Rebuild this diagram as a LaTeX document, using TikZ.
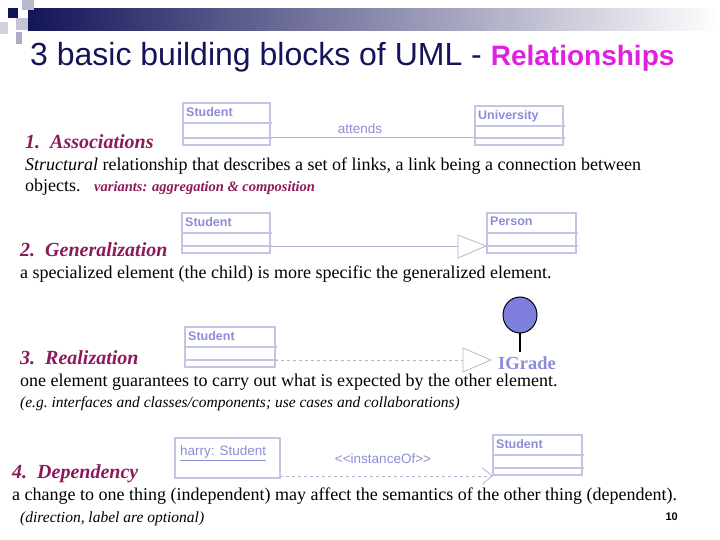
\documentclass[tikz,border=0pt]{standalone}
\usepackage{fontspec}
\setmainfont{Liberation Serif}
\setsansfont{Liberation Sans}
\usetikzlibrary{arrows.meta,shadings}
\definecolor{umlline}{HTML}{C4C4E4}
\definecolor{umltext}{HTML}{8C8CD8}
\definecolor{navyhead}{HTML}{14145A}
\definecolor{pinkhead}{HTML}{E020E0}
\definecolor{itemcol}{HTML}{8B1A5A}
\tikzset{
    classbox/.style={draw=umlline, line width=1.2pt},
    classname/.style={anchor=north west, inner sep=0pt, font=\sffamily\fontsize{12.5}{14}\selectfont\bfseries, text=umltext},
    rellabel/.style={font=\sffamily\fontsize{13.5}{16}\selectfont, text=umltext},
    relline/.style={draw=umlline!80!gray, line width=0.8pt},
    itemhead/.style={anchor=base west, inner sep=0pt, font=\fontsize{20}{24}\selectfont\bfseries\itshape, text=itemcol},
    body/.style={anchor=base west, inner sep=0pt, font=\fontsize{18}{21}\selectfont},
    note/.style={anchor=base west, inner sep=0pt, font=\fontsize{15.5}{18}\selectfont\itshape},
}
% a class with two compartments: name, x1, y1, x2, y2
\newcommand{\umlclass}[6]{
    \draw[classbox] (#2, #3) rectangle (#4, #5);
    \draw[classbox] (#2, #3 + 20) -- (#4 + 2, #3 + 20);
    \draw[classbox] (#2, #5 - 7) -- (#4 + 2, #5 - 7);
    \node[classname] (#1) at (#2 + 3, #3 + 4) {#6};
}
\begin{document}
\begin{tikzpicture}[x=1pt, y=-1pt]
    \useasboundingbox (0, 0) rectangle (720, 540);

    % header bar
    \shade[left color=navyhead, right color=white] (28, 9) rectangle (720, 31);
    \fill[navyhead] (8, 8) rectangle (18, 18);
    \fill[navyhead!30] (22, 0) rectangle (34, 10);
    \fill[navyhead!25] (16, 18) rectangle (28, 30);
    \fill[navyhead!20] (0, 22) rectangle (8, 34);
    \fill[navyhead!35] (16, 32) rectangle (22, 44);
    \node[anchor=base west, inner sep=0pt, font=\sffamily\fontsize{32}{36}\selectfont, text=navyhead] (title) at (30, 66)
        {3 basic building blocks of UML - \textcolor{pinkhead}{\fontsize{28}{32}\selectfont\bfseries Relationships}};

    % 1. association
    \umlclass{studA}{183}{103}{270}{145}{Student}
    \umlclass{univ}{475}{106}{563}{145}{University}
    \draw[relline] (270, 137) -- (475, 137);
    \node[rellabel] (attends) at (360, 129) {attends};
    \node[itemhead] (assoc) at (25, 149) {1.\ \ Associations};
    \node[body] (assocA) at (25, 171) {\textit{Structural} relationship that describes a set of links, a link being a connection between};
    \node[body] (assocB) at (25, 192) {objects.\ \ \ \textcolor{itemcol}{\fontsize{14.5}{16}\selectfont\bfseries\itshape variants: aggregation \& composition}};

    % 2. generalization
    \umlclass{studB}{182}{213}{270}{253}{Student}
    \umlclass{person}{487}{213}{576}{253}{Person}
    \draw[relline] (270, 246) -- (458, 246);
    \draw[relline, fill=white] (458, 235) -- (486, 246) -- (458, 258) -- cycle;
    \node[itemhead] (gen) at (20, 256) {2.\ \ Generalization};
    \node[body] (genA) at (20, 278) {a specialized element (the child) is more specific the generalized element.};

    % 3. realization
    \umlclass{studC}{185}{327}{275}{367}{Student}
    \draw[relline, dashed] (275, 360) -- (463, 360);
    \draw[relline, fill=white] (463, 348) -- (491, 360) -- (463, 372) -- cycle;
    \draw[line width=1.5pt] (520, 333) -- (520, 352);
    \draw[fill=umltext!90!blue, line width=1pt] (520, 315) ellipse (17 and 18);
    \node[anchor=base west, inner sep=0pt, font=\fontsize{18.5}{20}\selectfont\bfseries, text=umltext] (igrade) at (498, 369) {IGrade};
    \node[itemhead] (real) at (20, 364) {3.\ \ Realization};
    \node[body] (realA) at (20, 386) {one element guarantees to carry out what is expected by the other element.};
    \node[note] (realB) at (20, 407) {(e.g.\ interfaces and classes/components; use cases and collaborations)};

    % 4. dependency
    \draw[classbox] (175, 438) rectangle (280, 478);
    \node[classname, font=\sffamily\fontsize{13.5}{16}\selectfont] (harry) at (180, 446) {\underline{harry: Student}};
    \umlclass{studD}{493}{435}{582}{475}{Student}
    \draw[relline, dashed, -{Straight Barb[length=10pt, width=16pt]}] (280, 476) -- (493, 476);
    \node[rellabel] (inst) at (383, 459) {<{}<instanceOf>{}>};
    \node[itemhead] (dep) at (12, 478) {4.\ \ Dependency};
    \node[body] (depA) at (12, 500) {a change to one thing (independent) may affect the semantics of the other thing (dependent).};
    \node[note] (depB) at (20, 522) {(direction, label are optional)};
    \node[anchor=base east, inner sep=0pt, font=\sffamily\fontsize{11}{12}\selectfont\bfseries] (pnum) at (678, 520) {10};
\end{tikzpicture}
\end{document}
